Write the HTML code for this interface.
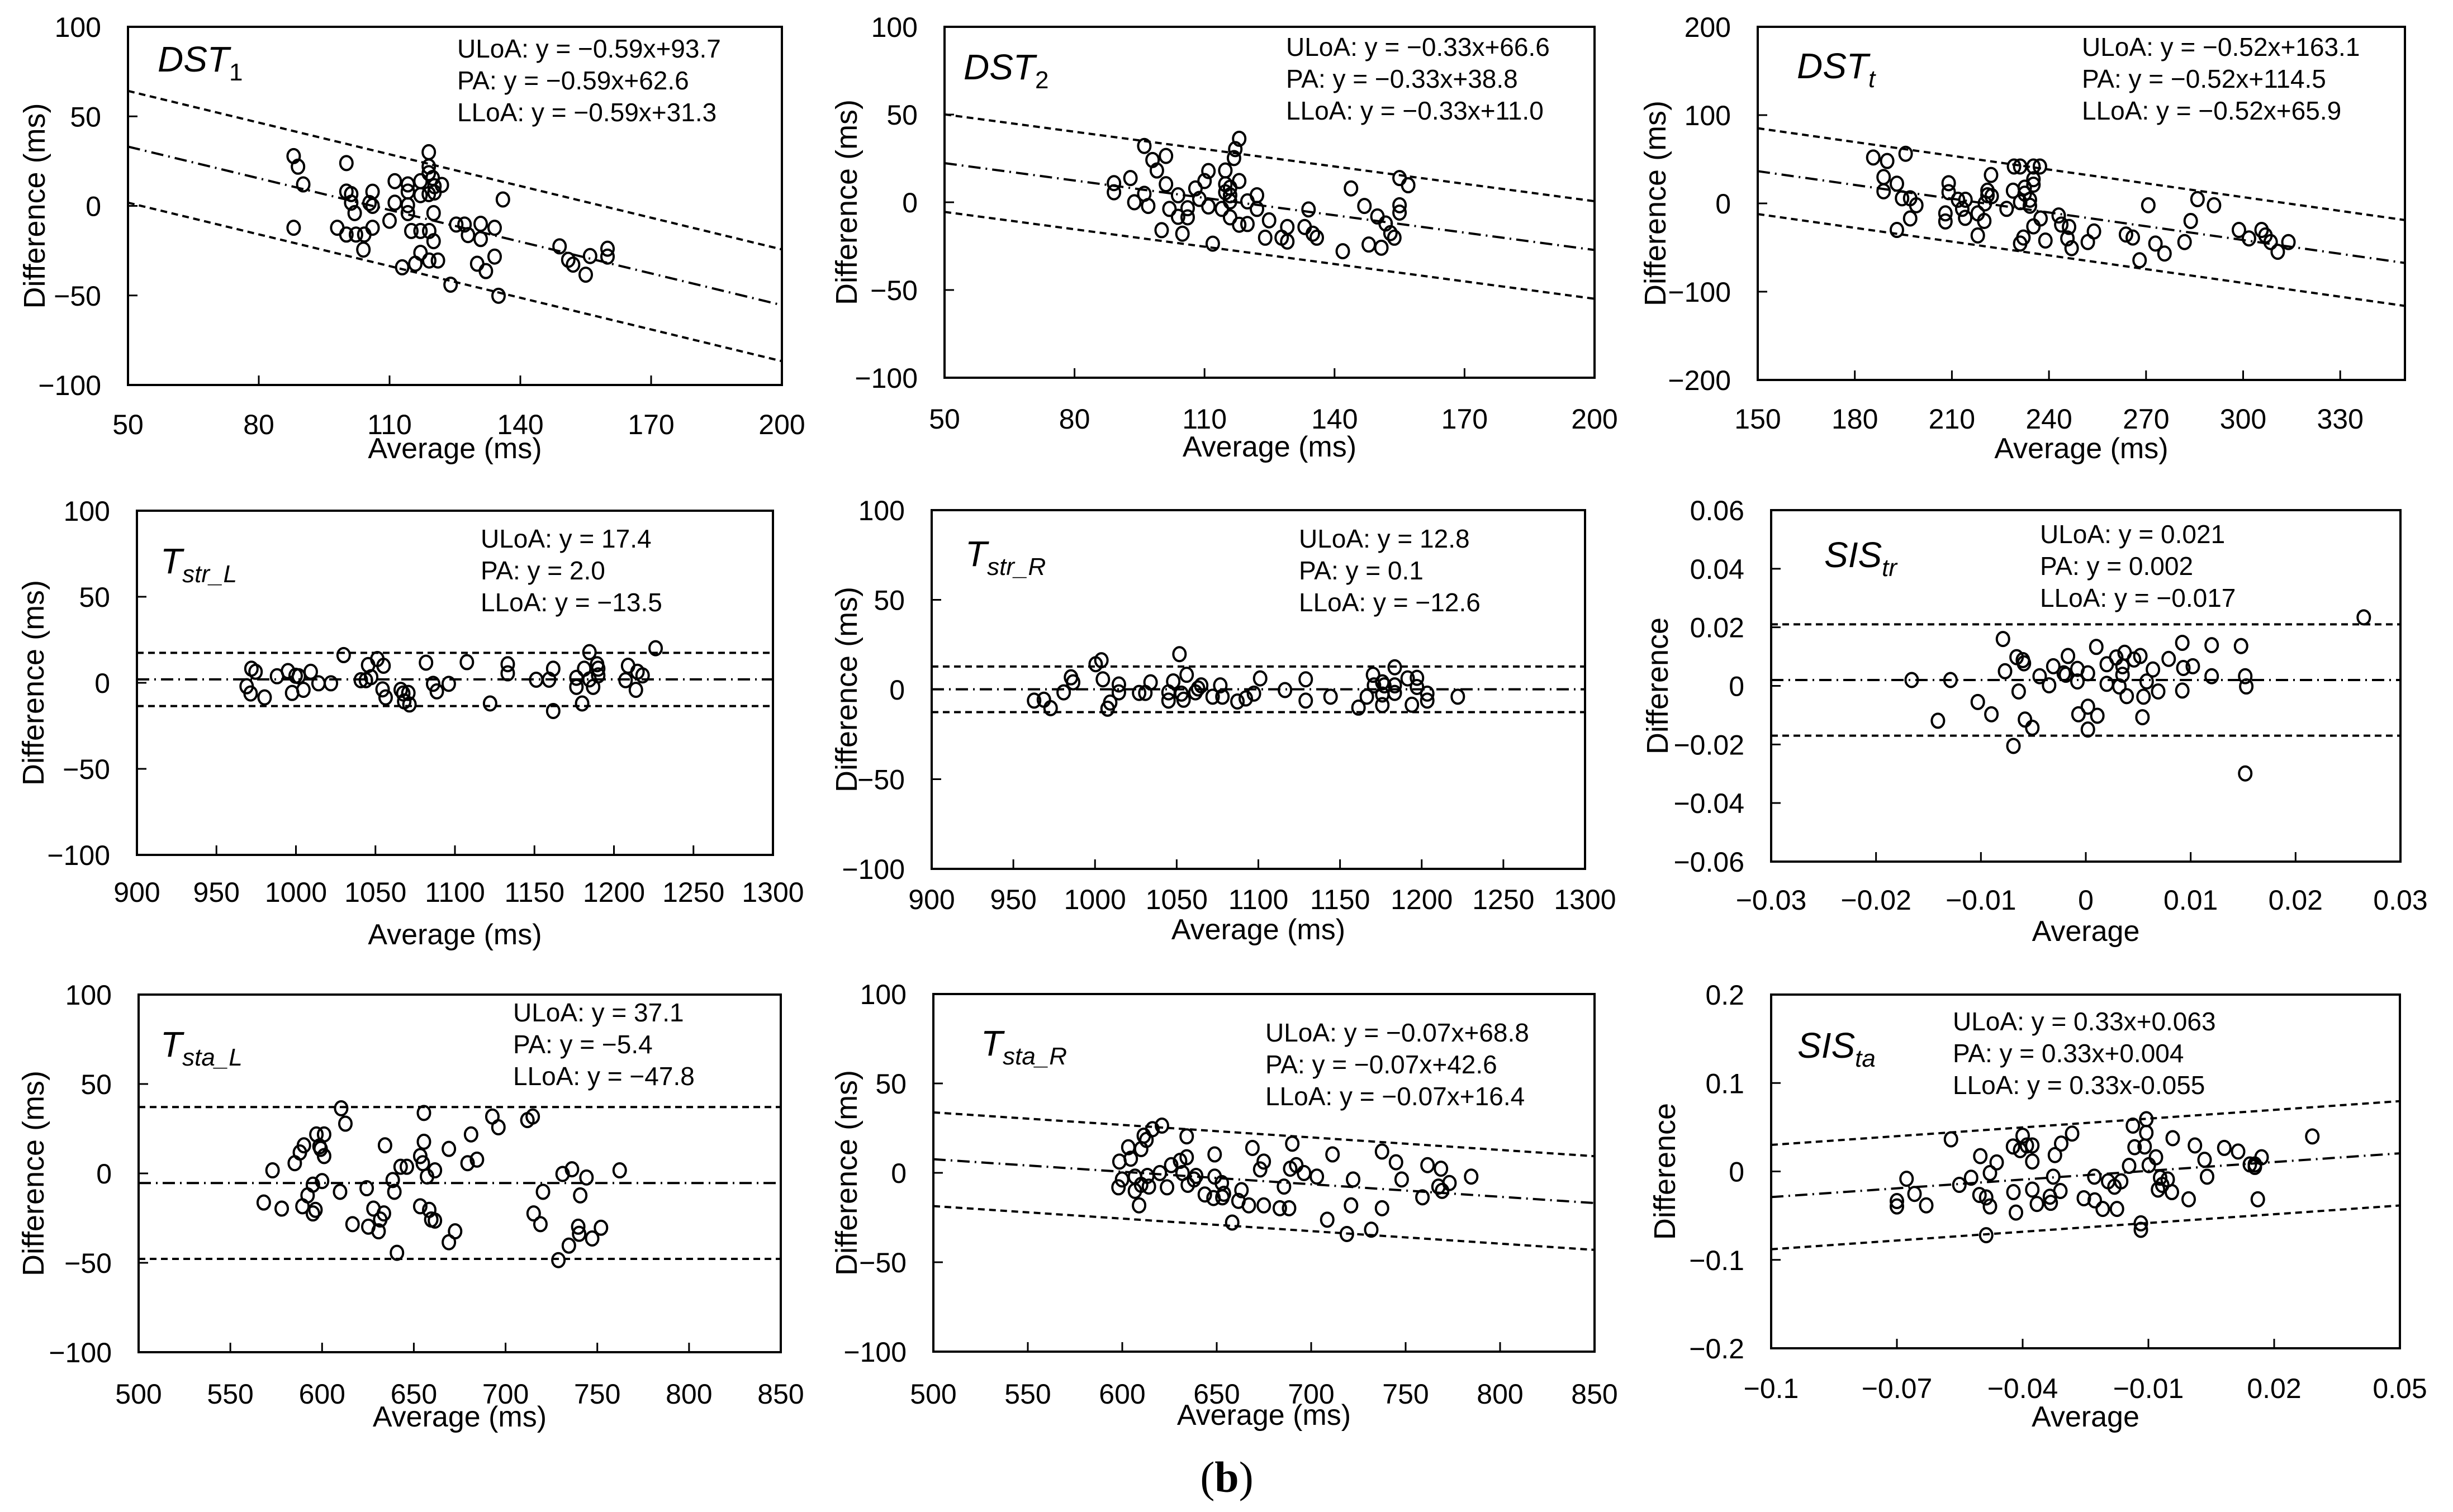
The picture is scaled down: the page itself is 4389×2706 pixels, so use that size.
<!DOCTYPE html>
<html><head><meta charset="utf-8"><style>
html,body{margin:0;padding:0;background:#fff;}
svg{display:block;}
text{font-family:"Liberation Sans",Arial,sans-serif;fill:#000;}
</style></head><body>
<svg id="fig" width="4389" height="2706" viewBox="0 0 4389 2706" xmlns="http://www.w3.org/2000/svg">
<rect x="0" y="0" width="4389" height="2706" fill="#fff"/>
<text x="2195" y="2670" text-anchor="middle" font-size="78" style="font-family:'Liberation Serif',serif">(<tspan font-weight="bold">b</tspan>)</text>
</svg>
<script>
// ---------- data ----------
const dst1Avg=[88,89,90.2,88,100.1,100.1,101.2,101.2,102,98,100.1,102.3,104.2,104,106.1,105.4,106.1,106.1,110,111.2,111.2,114.2,114.2,114.2,114.2,115,117.1,119.1,117.1,117.1,119,119,119,119.9,120.3,120.3,119,122,120.1,120.1,117.1,115.9,112.9,119.1,121.1,124,125.3,127.2,128,130.9,130.9,130.1,132.1,134.1,134.1,135,136,149,151,152.1,155,156,160,160];
const dst1Diff=[27.8,21.9,12,-12.2,23.9,8,6.6,1.8,-4,-12.2,-16,-16,-16,-24.4,7.9,1.6,0,-12.2,-8.3,13.8,1.8,12,8,0.4,-4,-14,-14,-14,13.8,6,30,22,18.3,15.6,11,7.5,6.6,11.7,-4,-19.7,-26.2,-32.3,-34.3,-30.5,-30.5,-44,-10.4,-10.4,-16.3,-10,-18.5,-32.3,-36.4,-12.2,-28.3,-50.2,3.6,-22.6,-30.1,-32.8,-38.4,-28,-23.9,-28.3];
const dst1Slope=-0.59; const dst1Icpt=[93.7,62.6,31.3];

const dst2Avg=[89.1,89.1,92.9,93.8,96.1,96.1,97,98,99,101.1,101.1,100.1,101.9,103.9,103.9,104.9,106.1,106.1,107.9,108.8,110,110.9,110.9,111.9,114,114.8,114.8,114.8,115.9,115.9,115.9,115.9,116.8,117.1,118,118,118,119.9,119.9,122.1,122.1,124.9,124,127.8,129.1,129.1,133.1,134,135,135.9,141.9,143.8,146.9,147.9,149.9,150.8,151.8,152.9,153.8,155,155,155,157];
const dst2Diff=[10.9,5.7,13.8,0,32.1,4.8,-2.1,24.1,18.1,26.4,10.3,-15.9,-3.8,4,-8.3,-17.9,-3.4,-8.6,7.9,1.9,12.1,17.8,-2.4,-23.6,-3.8,18.1,10.3,5.7,8.3,4,0.5,-8.6,25.2,30.3,36.2,12.1,-12.8,-12.4,0.5,4,-3.8,-10.3,-20.2,-20.2,-22.4,-14.1,-14.1,-4.1,-17.9,-20.2,-27.9,7.9,-2.1,-24.1,-8.1,-25.9,-12.1,-17.6,-20.2,13.8,-1.7,-5.9,9.7];
const dst2Slope=-0.33; const dst2Icpt=[66.6,38.8,11.0];

const dsttAvg=[185.7,190,188.9,188.9,195.7,193,194.6,197.1,199,197.1,193,209,209,208,208,211.9,214.2,213.2,214.1,218,218,220,221,221,222.3,222.1,220.2,226.9,229.2,231.1,228.9,231.1,232.5,232.5,234.1,234.1,235.2,237.2,235.2,235.2,235.2,237.4,232.1,231.1,238.9,243,243.8,246.2,245.7,247,252,253.9,263.8,265.9,270.7,268,272.9,275.7,281.9,283.8,285.9,291,298.7,301.8,305.7,306.9,308.5,310.7,314];
const dsttDiff=[52,48,29.8,13.7,56.2,22.3,5.8,5.8,-2.1,-17.1,-30.1,22.9,12.7,-11.3,-20.5,4.1,4.1,-6.2,-16.4,-11.3,-36.3,-19.9,14.4,9.2,8.2,32.2,0,-6.2,41.8,41.8,14.4,1.4,17.8,11,4.1,-2.7,41.8,41.8,27.4,21.2,-26,-17.1,-38.7,-45.5,-42.1,-13.7,-24,-26.7,-39.7,-50.7,-43.8,-31.8,-35.3,-38.7,-2.1,-64.4,-45.5,-56.8,-43.8,-19.9,4.8,-2.1,-30.1,-39.7,-30.1,-36.3,-43.8,-54.8,-43.8];
const dsttSlope=-0.52; const dsttIcpt=[163.1,114.5,65.9];

const strLAvg=[969,971.5,972,974.6,980.3,988.1,995,997.6,999.8,1001.8,1004.7,1009.3,1014.2,1022,1030,1040.8,1044,1047.3,1045.4,1051.2,1054.5,1056.4,1055.1,1065.9,1067.5,1068.1,1070.7,1071.4,1081.8,1086.3,1088.6,1096.1,1107.5,1122.1,1133.2,1133.2,1151.1,1159.2,1161.8,1161.8,1176.4,1176.4,1180,1181.3,1184.6,1184.6,1186.9,1189.4,1190.1,1190.1,1207.3,1208.9,1214.8,1213.8,1218,1226.2];
const strLDiff=[-2,-6.2,8.2,6.4,-8.5,3.8,6.8,-5.9,4.1,3.8,-4.1,6.4,-0.3,-0.3,16.1,1.5,1.5,3.3,10.3,13.8,-3.8,-8.5,9.9,-4.1,-6.2,-10.8,-5.9,-12.6,11.7,-0.6,-5,-0.6,12,-12,10.8,5.5,1.8,1.8,8.2,-16.4,2.9,-2.4,-12,8.2,17.8,2,-2.4,10.8,8.2,4.3,1.5,9.9,6.4,-4.1,4.3,20.1];
const strLSlope=0; const strLIcpt=[17.4,2.0,-13.5];

const strRAvg=[962.7,968.7,972.8,980.8,985.3,986.6,1000.4,1003.9,1004.8,1007.7,1009.3,1014.6,1014.6,1027,1030.8,1034,1045,1045,1047.9,1051.7,1052.9,1054.2,1056.1,1061.5,1063.1,1065,1072,1076.7,1078,1087.2,1092.3,1097.3,1101.1,1116.3,1129,1129,1144.2,1161.3,1166.4,1170.2,1170.8,1175.9,1175.9,1175.9,1177.1,1183.5,1183.5,1183.5,1191.4,1194,1197.1,1197.1,1203.4,1203.4,1222.1];
const strRDiff=[-6.2,-5.7,-10.4,-1.6,6.8,4,14.1,16.3,5.7,-10.7,-7.3,2.8,-1.6,-1.9,-1.9,4,-1.6,-6.2,4.5,19.7,-2.3,-5.7,8.2,-1.6,0.6,2.3,-4,2.3,-4,-6.7,-5,-2.3,6.2,-0.3,5.7,-6.2,-4,-10.1,-4,8.2,2.3,4,-2.8,-8.7,2.3,12.4,2.3,-1.9,6.2,-8.5,6.5,1.4,-2.3,-6.2,-4];
const strRSlope=0; const strRIcpt=[12.8,0.1,-12.6];

const sisTrAvg=[-0.0166,-0.0129,-0.0141,-0.0103,-0.009,-0.0079,-0.0077,-0.0069,-0.0066,-0.0064,-0.006,-0.0059,-0.0058,-0.0051,-0.0044,-0.0035,-0.0031,-0.0021,-0.0019,-0.0017,-0.0008,-0.0008,-0.0007,0.0002,0.0002,0.0002,0.001,0.0011,0.002,0.002,0.0029,0.0032,0.0035,0.0035,0.0037,0.0039,0.0046,0.0052,0.0055,0.0054,0.0058,0.0064,0.0069,0.0079,0.0092,0.0092,0.0093,0.0102,0.012,0.012,0.0148,0.0152,0.0153,0.0152,0.0265];
const sisTrDiff=[0.002,0.002,-0.0119,-0.0055,-0.0097,0.016,0.005,-0.0205,0.0098,-0.0019,0.0088,0.0077,-0.0115,-0.0143,0.0033,0.0002,0.0067,0.0043,0.0038,0.0102,0.0058,0.0015,-0.0097,0.0043,-0.0071,-0.0149,0.0133,-0.0102,0.0074,0.0007,0.0097,-0.0002,0.0067,0.0038,0.0113,-0.0035,0.009,0.0102,-0.0037,-0.0107,0.0015,0.0056,-0.0019,0.0092,0.0147,-0.0016,0.0061,0.0067,0.0139,0.0033,0.0136,0.0033,-0.0002,-0.0299,0.0234];
const sisTrSlope=0; const sisTrIcpt=[0.021,0.002,-0.017];

const staLAvg=[568.2,573,578,585.1,587.9,590.1,589.3,592.1,595,595,596.4,596.9,598.6,599.2,601.1,601.1,600,610.4,612.7,609.8,616.6,624.3,625.2,628,630.8,631.7,633.7,634.3,638.5,639.4,640.8,642.8,646.2,653.5,654.9,655.5,655.5,657.2,653.5,658.4,659.5,661.5,661.5,669.1,669.1,672.5,679.3,681.2,684.4,692.8,696.1,711.9,714.8,715.3,719,720.4,728.8,731.1,734.5,736.2,739.6,740.1,740.7,744.1,747.2,752,762.2];
const staLDiff=[-16.3,1.7,-19.7,5.7,11.7,15.7,-18.4,-12.3,-6.3,-22.4,-20.4,21.8,15.1,13.7,21.8,9.7,-4.3,36.4,27.8,-10.3,-28.4,-8.3,-29.8,-19.7,-32.4,-25.8,-22.4,15.7,-3.7,-10.3,-44.4,3.7,3.7,9.7,5.7,33.8,17.7,-1.7,-18.4,-20.4,-25.8,-26.4,1.7,13.7,-38.5,-32.4,5.7,21.8,7.7,31.8,25.8,29.8,31.8,-22.4,-28.4,-10.3,-48.5,-0.3,-40.4,2.3,-29.8,-33.8,-12.3,-2.3,-36.4,-30.4,1.7];
const staLSlope=0; const staLIcpt=[37.1,-5.4,-47.8];

const staRAvg=[598.5,598,599.9,603.2,604.5,606.7,606.7,608.9,610,610,611.4,612.8,613.3,614.1,616,621,619.9,623.7,625.9,630.6,631.9,634.1,634.1,634.7,638,639.1,643.7,648.9,648.9,648.3,652.7,653,653.8,658.2,661.5,663.1,667,668.9,673,674.9,674.9,683.4,685.6,688.3,688.9,690,692.1,696.2,703,708.5,711.3,718.9,721.1,722.2,731.8,737.5,737.5,744.9,747.9,758.9,761.6,768.7,767.4,769.3,773.2,784.7];
const staRDiff=[6.3,-8.1,-3.7,14.3,7.9,-2.1,-10.1,-18.2,-6.7,13.3,20.8,18.4,-1.7,-7.7,24.4,26.4,-0.1,-8.1,4.3,6.7,-0.1,20.4,8.7,-6.7,-3.7,-1.7,-12.1,-2.1,10.3,-14.1,-5.7,-13.7,-11.7,-27.8,-15.7,-9.7,-18.2,13.9,1.9,6.3,-18.2,-19.8,-7.7,-19.8,2.3,16.3,4.3,-0.1,-2.1,-26.2,10.3,-34.2,-18.2,-3.7,-31.8,11.9,-19.8,5.9,-3.7,-13.7,4.3,2.3,-7.7,-10.1,-5.7,-2.1];
const staRSlope=-0.07; const staRIcpt=[68.8,42.6,16.4];

const sisTaAvg=[-0.07,-0.07,-0.0677,-0.0658,-0.063,-0.0571,-0.0551,-0.0523,-0.0501,-0.0503,-0.0487,-0.0487,-0.0478,-0.0478,-0.0462,-0.0423,-0.0422,-0.0416,-0.0406,-0.04,-0.039,-0.0377,-0.0377,-0.0377,-0.0366,-0.0335,-0.0333,-0.0327,-0.0323,-0.031,-0.0308,-0.0282,-0.0254,-0.0229,-0.0228,-0.0209,-0.0196,-0.0181,-0.0175,-0.0165,-0.0146,-0.0137,-0.0133,-0.0118,-0.0118,-0.0109,-0.0105,-0.0105,-0.0099,-0.0082,-0.0072,-0.0077,-0.0067,-0.0054,-0.0044,-0.0042,-0.0004,0.0011,0.0034,0.004,0.0081,0.0114,0.0142,0.0154,0.0154,0.017,0.0161,0.0291];
const sisTaDiff=[-0.0335,-0.0396,-0.0083,-0.0254,-0.0384,0.0363,-0.0152,-0.0071,0.0173,-0.0266,-0.0294,-0.0721,-0.0018,-0.0396,0.0102,0.0282,-0.0234,-0.0465,0.0241,0.0404,0.0294,0.0294,0.0112,-0.0205,-0.0368,-0.0286,-0.0355,-0.0059,0.0185,-0.0221,0.0315,0.0428,-0.0303,-0.0059,-0.0327,-0.0424,-0.0112,-0.0173,-0.0424,-0.0112,0.0063,0.0518,0.0274,-0.0587,-0.066,0.0282,0.0591,0.0437,0.0071,0.016,-0.0071,-0.0205,-0.0152,-0.0091,-0.0234,0.0376,-0.0315,0.0294,0.0132,-0.0059,0.0266,0.0225,0.0079,0.0051,0.0079,0.016,-0.0315,0.0396];
const sisTaSlope=0.33; const sisTaIcpt=[0.063,0.004,-0.055];

// tick labels
const dst1XTicks=[50,80,110,140,170,200]; const dst1YTicks=[-100,-50,0,50,100];
const dst2XTicks=[50,80,110,140,170,200]; const dst2YTicks=[-100,-50,0,50,100];
const dsttXTicks=[150,180,210,240,270,300,330]; const dsttYTicks=[-200,-100,0,100,200];
const strXTicks=[900,950,1000,1050,1100,1150,1200,1250,1300]; const strYTicks=[-100,-50,0,50,100];
const sisTrXTicks=[-0.03,-0.02,-0.01,0,0.01,0.02,0.03]; const sisTrYTicks=[-0.06,-0.04,-0.02,0,0.02,0.04,0.06];
const staXTicks=[500,550,600,650,700,750,800,850]; const staYTicks=[-100,-50,0,50,100];
const sisTaXTicks=[-0.1,-0.07,-0.04,-0.01,0.02,0.05]; const sisTaYTicks=[-0.2,-0.1,0,0.1,0.2];

// ---------- layout ----------
const panels=[
 {key:'dst1',box:[229,48,1399,689],xr:[50,200],yr:[-100,100],xs:dst1Avg,ys:dst1Diff,sl:dst1Slope,ic:dst1Icpt,xt:dst1XTicks,yt:dst1YTicks,
  title:['DST','1',false],tpos:[53,80],eq:['ULoA: y = \u22120.59x+93.7','PA: y = \u22120.59x+62.6','LLoA: y = \u22120.59x+31.3'],epos:[589,55],yl:'Difference (ms)',ylx:-167,xl:'Average (ms)',xtOff:88,xlOff:131},
 {key:'dst2',box:[1690,48,2853,676],xr:[50,200],yr:[-100,100],xs:dst2Avg,ys:dst2Diff,sl:dst2Slope,ic:dst2Icpt,xt:dst2XTicks,yt:dst2YTicks,
  title:['DST','2',false],tpos:[34,94],eq:['ULoA: y = \u22120.33x+66.6','PA: y = \u22120.33x+38.8','LLoA: y = \u22120.33x+11.0'],epos:[611,52],yl:'Difference (ms)',ylx:-175,xl:'Average (ms)',xtOff:91,xlOff:141},
 {key:'dstt',box:[3145,48,4303,680],xr:[150,350],yr:[-200,200],xs:dsttAvg,ys:dsttDiff,sl:dsttSlope,ic:dsttIcpt,xt:dsttXTicks,yt:dsttYTicks,
  title:['DST','t',true],tpos:[70,92],eq:['ULoA: y = \u22120.52x+163.1','PA: y = \u22120.52x+114.5','LLoA: y = \u22120.52x+65.9'],epos:[580,52],yl:'Difference (ms)',ylx:-183,xl:'Average (ms)',xtOff:87,xlOff:140},
 {key:'strL',box:[245,914,1383,1530],xr:[900,1300],yr:[-100,100],xs:strLAvg,ys:strLDiff,sl:strLSlope,ic:strLIcpt,xt:strXTicks,yt:strYTicks,
  title:['T','str_L',true],tpos:[42,112],eq:['ULoA: y = 17.4','PA: y = 2.0','LLoA: y = \u221213.5'],epos:[615,66],yl:'Difference (ms)',ylx:-185,xl:'Average (ms)',xtOff:84,xlOff:160},
 {key:'strR',box:[1667,913,2836,1555],xr:[900,1300],yr:[-100,100],xs:strRAvg,ys:strRDiff,sl:strRSlope,ic:strRIcpt,xt:strXTicks,yt:strYTicks,
  title:['T','str_R',true],tpos:[60,100],eq:['ULoA: y = 12.8','PA: y = 0.1','LLoA: y = \u221212.6'],epos:[657,67],yl:'Difference (ms)',ylx:-152,xl:'Average (ms)',xtOff:72,xlOff:126},
 {key:'sisTr',box:[3169,913,4295,1542],xr:[-0.03,0.03],yr:[-0.06,0.06],xs:sisTrAvg,ys:sisTrDiff,sl:sisTrSlope,ic:sisTrIcpt,xt:sisTrXTicks,yt:sisTrYTicks,
  title:['SIS','tr',true],tpos:[95,102],eq:['ULoA: y = 0.021','PA: y = 0.002','LLoA: y = \u22120.017'],epos:[481,59],yl:'Difference',ylx:-203,xl:'Average',xtOff:86,xlOff:142},
 {key:'staL',box:[248,1780,1397,2420],xr:[500,850],yr:[-100,100],xs:staLAvg,ys:staLDiff,sl:staLSlope,ic:staLIcpt,xt:staXTicks,yt:staYTicks,
  title:['T','sta_L',true],tpos:[39,111],eq:['ULoA: y = 37.1','PA: y = \u22125.4','LLoA: y = \u221247.8'],epos:[670,48],yl:'Difference (ms)',ylx:-188,xl:'Average (ms)',xtOff:92,xlOff:133},
 {key:'staR',box:[1670,1779,2853,2419],xr:[500,850],yr:[-100,100],xs:staRAvg,ys:staRDiff,sl:staRSlope,ic:staRIcpt,xt:staXTicks,yt:staYTicks,
  title:['T','sta_R',true],tpos:[85,110],eq:['ULoA: y = \u22120.07x+68.8','PA: y = \u22120.07x+42.6','LLoA: y = \u22120.07x+16.4'],epos:[594,85],yl:'Difference (ms)',ylx:-155,xl:'Average (ms)',xtOff:93,xlOff:131},
 {key:'sisTa',box:[3169,1780,4294,2413],xr:[-0.1,0.05],yr:[-0.2,0.2],xs:sisTaAvg,ys:sisTaDiff,sl:sisTaSlope,ic:sisTaIcpt,xt:sisTaXTicks,yt:sisTaYTicks,
  title:['SIS','ta',true],tpos:[47,113],eq:['ULoA: y = 0.33x+0.063','PA: y = 0.33x+0.004','LLoA: y = 0.33x-0.055'],epos:[325,64],yl:'Difference',ylx:-190,xl:'Average',xtOff:89,xlOff:140}
];

const NS='http://www.w3.org/2000/svg';
const svg=document.getElementById('fig');
function mk(tag,attrs,parent){const e=document.createElementNS(NS,tag);for(const k in attrs)e.setAttribute(k,attrs[k]);(parent||svg).appendChild(e);return e;}
function fmt(v){const s=String(+v.toFixed(4));return s.replace('-','\u2212');}

panels.forEach(p=>{
  const [L,T,R,B]=p.box;
  const sx=v=>L+(v-p.xr[0])/(p.xr[1]-p.xr[0])*(R-L);
  const sy=v=>B-(v-p.yr[0])/(p.yr[1]-p.yr[0])*(B-T);
  const g=mk('g',{});
  
  

  const styles=['12 8','22 9 3 9','12 8'];
  const lnames=['uloa-line','pa-line','lloa-line'];
  p.ic.forEach((c,i)=>{
    const x0=p.xr[0],x1=p.xr[1];
    const l=mk('line',{x1:sx(x0),y1:sy(p.sl*x0+c),x2:sx(x1),y2:sy(p.sl*x1+c),stroke:'#000','stroke-width':4,'stroke-dasharray':styles[i]},g);
    
    
  });

  const n=Math.min(p.xs.length,p.ys.length);
  for(let i=0;i<n;i++){
    const c=mk('ellipse',{cx:sx(p.xs[i]),cy:sy(p.ys[i]),rx:11,ry:12.5,fill:'none',stroke:'#000','stroke-width':4},g);
    
    
  }

  const fr=mk('rect',{x:L,y:T,width:R-L,height:B-T,fill:'none',stroke:'#000','stroke-width':4},g);
  
  

  p.xt.forEach(v=>{
    const x=sx(v);
    if(Math.abs(x-L)>2&&Math.abs(x-R)>2){
      const t=mk('line',{x1:x,y1:B,x2:x,y2:B-17,stroke:'#000','stroke-width':3},g);
      
      
    }
    const lb=mk('text',{x:x,y:B+p.xtOff,'text-anchor':'middle','font-size':50},g);
    lb.textContent=fmt(v);
    
    
  });
  p.yt.forEach(v=>{
    const y=sy(v);
    if(Math.abs(y-T)>2&&Math.abs(y-B)>2){
      const t=mk('line',{x1:L,y1:y,x2:L+17,y2:y,stroke:'#000','stroke-width':3},g);
      
      
    }
    const lb=mk('text',{x:L-48,y:y+18,'text-anchor':'end','font-size':50},g);
    lb.textContent=fmt(v);
    
    
  });

  const xl=mk('text',{x:(L+R)/2,y:B+p.xlOff,'text-anchor':'middle','font-size':52},g);
  xl.textContent=p.xl;
  
  
  const cy=(T+B)/2, cx=L+p.ylx;
  const yl=mk('text',{x:cx,y:cy,'text-anchor':'middle','dominant-baseline':'central','font-size':54,transform:`rotate(-90 ${cx} ${cy})`},g);
  yl.textContent=p.yl;
  
  

  const tt=mk('text',{x:L+p.tpos[0],y:T+p.tpos[1],'font-size':64,'font-style':'italic'},g);
  
  
  const a=mk('tspan',{},tt); a.textContent=p.title[0];
  const b=mk('tspan',{dy:16,'font-size':44,'font-style':p.title[2]?'italic':'normal'},tt); b.textContent=p.title[1];

  p.eq.forEach((s,i)=>{
    const e=mk('text',{x:L+p.epos[0],y:T+p.epos[1]+i*57,'font-size':46},g);
    e.textContent=s;
    
    
  });
});
</script>
</body></html>
